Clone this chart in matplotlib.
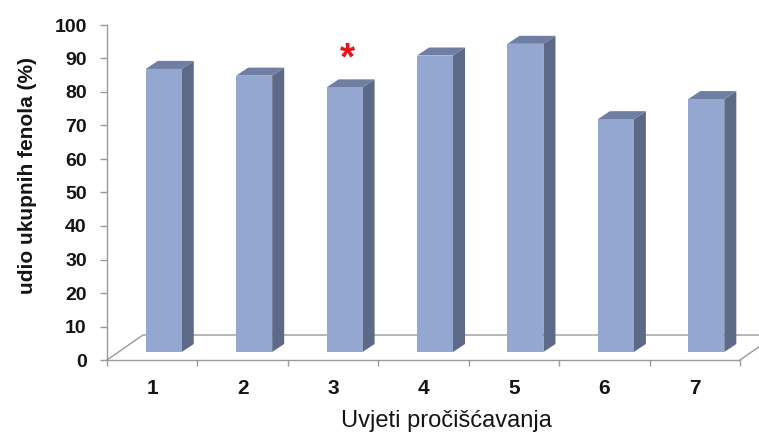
import matplotlib
matplotlib.use("Agg")
import matplotlib.pyplot as plt
from matplotlib.patches import Polygon

plt.rcParams["font.family"] = ["Liberation Sans", "DejaVu Sans"]

# data
categories = ["1", "2", "3", "4", "5", "6", "7"]
values = [84.5, 82.5, 79.0, 88.5, 92.0, 69.5, 75.5]
marked = [2]  # bar with the red asterisk
y_ticks = list(range(0, 101, 10))

FRONT = "#94a7d1"
SIDE = "#5c6a87"
TOP = "#6f7fa1"
GRID = "#9a9a9a"
TXT = "#141414"

fig = plt.figure(figsize=(7.59, 4.36), dpi=100)
ax = fig.add_axes([107 / 759, 76 / 436, 633 / 759, 335 / 436])
n = len(categories)
ax.set_xlim(0, n)
ax.set_ylim(0, 100)

# fake 3d: floor depth and bar depth, in data units
fdx, fdy = 0.398, 7.46
ox, oy = 0.32 * fdx, 0.32 * fdy
bdx, bdy = 0.133, 2.39
w = 0.398

# floor outline
ax.plot([0, fdx, n + fdx], [0, fdy, fdy], color=GRID, lw=1, clip_on=False, zorder=1)
ax.plot([n, n + fdx], [0, fdy], color=GRID, lw=1, clip_on=False, zorder=1)

for i, v in enumerate(values):
    xl = i + 0.5 + ox - w / 2
    xr = xl + w
    y0, y1 = oy, oy + v
    side = Polygon([(xr, y0), (xr + bdx, y0 + bdy), (xr + bdx, y1 + bdy), (xr, y1)],
                   closed=True, fc=SIDE, ec="none", clip_on=False, zorder=3)
    top = Polygon([(xl, y1), (xr, y1), (xr + bdx, y1 + bdy), (xl + bdx, y1 + bdy)],
                  closed=True, fc=TOP, ec="none", clip_on=False, zorder=3)
    front = Polygon([(xl, y0), (xr, y0), (xr, y1), (xl, y1)],
                    closed=True, fc=FRONT, ec="none", clip_on=False, zorder=4)
    for p in (side, top, front):
        ax.add_patch(p)
    if i in marked:
        ax.text(i + 0.5 + ox + bdx * 0.2, y1 + bdy + 3.0, "*", color="#e8141c",
                fontsize=28, fontweight="bold", ha="center", va="baseline", zorder=5)

for s in ("top", "right"):
    ax.spines[s].set_visible(False)
for s in ("left", "bottom"):
    ax.spines[s].set_color(GRID)
    ax.spines[s].set_linewidth(1)

ax.set_yticks(y_ticks)
ax.set_yticklabels([str(t) for t in y_ticks], fontsize=14, fontweight="bold", color=TXT)
ax.tick_params(axis="y", direction="out", length=5, width=1, color=GRID, pad=9.5)

ax.set_xticks([i + 0.5 for i in range(n)])
ax.set_xticklabels(categories, fontsize=15, fontweight="bold", color=TXT)
ax.set_xticks(range(n + 1), minor=True)
ax.tick_params(axis="x", which="major", length=0, pad=14)
ax.tick_params(axis="x", which="minor", direction="out", length=4.5, width=1, color=GRID)

ax.set_ylabel("udio ukupnih fenola (%)", fontsize=15, fontweight="bold", color=TXT)
ax.yaxis.set_label_coords(-0.11, 0.5507)
ax.set_xlabel("Uvjeti pročišćavanja", fontsize=17, color=TXT)
ax.xaxis.set_label_coords(0.5355, -0.148)

fig.savefig("out.png", dpi=100)
